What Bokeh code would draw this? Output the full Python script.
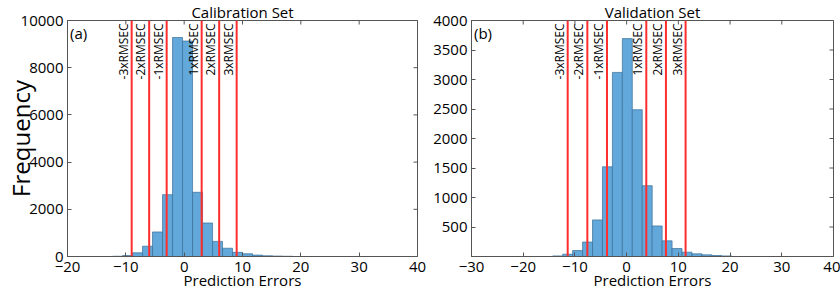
import numpy as np
from bokeh.plotting import figure
from bokeh.layouts import row
from bokeh.models import FixedTicker, Range1d
from bokeh.core.properties import value
from bokeh.embed import file_html
from bokeh.resources import INLINE

# ---------------- data ----------------
cal_bin_start = -12.28
cal_bin_width = 12.0 / 7.0
cal_counts = [10, 40, 155, 435, 1040, 2620, 9280, 9130, 2720, 1420, 640, 350, 175, 115, 60, 30, 18, 10]
cal_rmse = 3.0

val_bin_start = -14.29
val_bin_width = 1.923
val_counts = [10, 39, 101, 245, 620, 1520, 3120, 3693, 2488, 1200, 518, 265, 135, 73, 45, 28, 17, 10]
val_rmse = 3.8

multipliers = [-3, -2, -1, 1, 2, 3]
line_labels = ["-3xRMSEC", "-2xRMSEC", "-1xRMSEC", "1xRMSEC", "2xRMSEC", "3xRMSEC"]

cal_xticks = [-20, -10, 0, 10, 20, 30, 40]
cal_yticks = [0, 2000, 4000, 6000, 8000, 10000]
val_xticks = [-30, -20, -10, 0, 10, 20, 30, 40]
val_yticks = [500, 1000, 1500, 2000, 2500, 3000, 3500, 4000]

FONT = "Open Sans"
BAR_FILL = "#62a8da"
BAR_LINE = "#3a6f99"
RED = "#ff2e2e"
AXIS_COL = "#555555"
FRAME_H = 238


def make_panel(title, tag, bin_start, bin_width, counts, rmse, xr, yr, xticks, yticks,
               width, border_left, border_right, ylabel):
    frame_w = width - border_left - border_right
    p = figure(width=width, height=293, x_range=Range1d(*xr), y_range=Range1d(*yr),
               output_backend="svg", toolbar_location=None,
               min_border_left=border_left, min_border_right=border_right,
               min_border_top=18, min_border_bottom=37)
    p.title.text = title
    p.title.align = "center"
    p.title.text_font = FONT
    p.title.text_font_size = "15px"
    p.title.text_font_style = "normal"
    p.title.text_color = "black"
    p.title.standoff = -2
    p.title.offset = 0
    p.xgrid.visible = False
    p.ygrid.visible = False
    p.outline_line_color = AXIS_COL
    p.outline_line_width = 1
    p.outline_line_alpha = 1
    p.background_fill_color = "white"
    p.border_fill_color = "white"

    n = len(counts)
    lefts = [bin_start + i * bin_width for i in range(n)]
    rights = [l + bin_width for l in lefts]
    p.quad(left=lefts, right=rights, bottom=0, top=counts, fill_color=BAR_FILL,
           line_color=BAR_LINE, line_width=1, line_alpha=0.7)

    xs = [m * rmse for m in multipliers]
    for x in xs:
        p.segment(x0=x, y0=yr[0], x1=x, y1=yr[1], line_color=RED, line_width=2)

    top_y = yr[1] - (yr[1] - yr[0]) * 3.0 / FRAME_H
    p.text(x=xs, y=[top_y] * len(xs), text=line_labels, angle=np.pi / 2,
           text_align="right", text_baseline="bottom", text_font=value(FONT),
           text_font_size="12px", text_color="black")

    p.text(x=[xr[0] + (xr[1] - xr[0]) * 2.5 / frame_w],
           y=[yr[1] - (yr[1] - yr[0]) * 3.0 / FRAME_H],
           text=[tag], text_align="left", text_baseline="top",
           text_font=value(FONT), text_font_size="15px", text_color="black")

    # mirrored tick marks on the top and right edges (clipped half dashes)
    p.scatter(x=xticks, y=[yr[1]] * len(xticks), marker="dash", size=8, angle=np.pi / 2,
              line_color=AXIS_COL, line_width=1)
    p.scatter(x=[xr[1]] * len(yticks), y=yticks, marker="dash", size=8,
              line_color=AXIS_COL, line_width=1)

    xa = p.xaxis[0]
    xa.ticker = FixedTicker(ticks=xticks)
    ya = p.yaxis[0]
    ya.ticker = FixedTicker(ticks=yticks)
    for ax in (xa, ya):
        ax.major_label_text_font = FONT
        ax.major_label_text_font_size = "15px"
        ax.major_label_text_color = "black"
        ax.axis_line_color = AXIS_COL
        ax.major_tick_line_color = AXIS_COL
        ax.major_tick_in = 4
        ax.major_tick_out = 0
        ax.minor_tick_line_color = None
        ax.axis_label_text_font = FONT
        ax.axis_label_text_font_style = "normal"
        ax.axis_label_text_color = "black"
    ya.major_label_standoff = 4
    xa.major_label_standoff = 5
    xa.axis_label = "Prediction Errors"
    xa.axis_label_text_font_size = "15px"
    xa.axis_label_standoff = -5
    if ylabel:
        ya.axis_label = ylabel
        ya.axis_label_text_font_size = "24px"
        ya.axis_label_standoff = -19
    return p


p1 = make_panel("Calibration Set", "(a)", cal_bin_start, cal_bin_width, cal_counts, cal_rmse,
                (-20, 40), (0, 10000), cal_xticks, cal_yticks, 430, 67, 13, "Frequency")
p2 = make_panel("Validation Set", "(b)", val_bin_start, val_bin_width, val_counts, val_rmse,
                (-30, 40), (0, 4000), val_xticks, val_yticks, 410, 39, 7, None)

layout = row(p1, p2)
open("out.html", "w").write(file_html(layout, INLINE))
